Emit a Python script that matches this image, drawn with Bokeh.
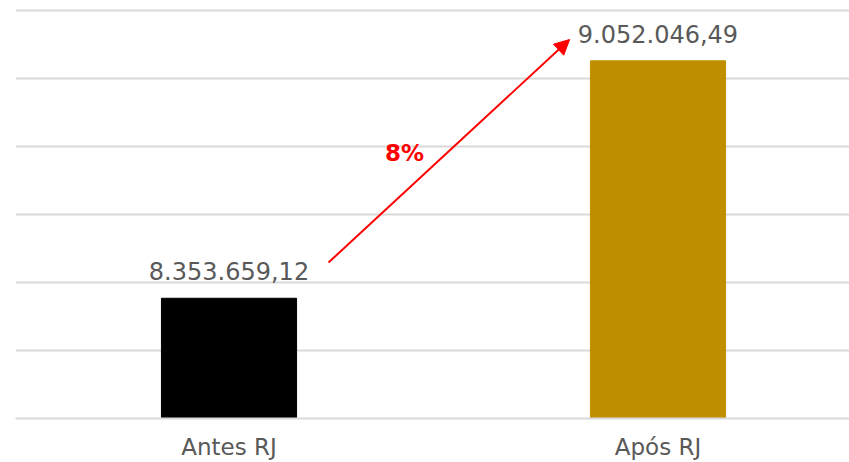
from bokeh.plotting import figure
from bokeh.models import (ColumnDataSource, Range1d, FixedTicker, LabelSet, Label,
                          Arrow, NormalHead)
from bokeh.core.properties import value
from bokeh.embed import file_html
from bokeh.resources import INLINE

categories = ["Antes RJ", "Após RJ"]
values = [8353659.12, 9052046.49]
bar_colors = ["#000000", "#bf8f00"]
grid_ticks = [8200000, 8400000, 8600000, 8800000, 9000000, 9200000]
y_min = 8000000
y_max = 9205900
growth_label = "8%"
arrow_start = (0.732, 8458800)
arrow_end = (1.294, 9114700)
growth_pos = (0.909, 8782300)


def fmt_br(v):
    s = f"{v:,.2f}"
    return s.replace(",", "X").replace(".", ",").replace("X", ".")


xs = [i + 0.5 for i in range(len(categories))]
src = ColumnDataSource(dict(
    x=xs, top=values, color=bar_colors,
    label=[fmt_br(v) for v in values],
))

FONT = "DejaVu Sans"
TXT = "#595959"

p = figure(frame_width=834, frame_height=410, output_backend="svg",
           toolbar_location=None, x_range=Range1d(0.0023, 1.9464),
           y_range=Range1d(y_min, y_max), min_border_left=15,
           min_border_right=0, min_border_top=8, min_border_bottom=0)
p.outline_line_color = None
p.background_fill_color = "white"
p.border_fill_color = "white"

p.vbar(x="x", top="top", bottom=y_min, width=0.315, color="color", source=src)

labels = LabelSet(x="x", y="top", text="label", source=src, text_align="center",
                  text_baseline="alphabetic", y_offset=18, text_font=value(FONT),
                  text_font_size=value("24px"), text_color=value(TXT))
p.add_layout(labels)

p.add_layout(Arrow(end=NormalHead(size=15, fill_color="red", line_color="red"),
                   x_start=arrow_start[0], y_start=arrow_start[1],
                   x_end=arrow_end[0], y_end=arrow_end[1],
                   line_color="red", line_width=2))
p.add_layout(Label(x=growth_pos[0], y=growth_pos[1], text=growth_label,
                   text_align="center", text_baseline="alphabetic",
                   text_font=FONT, text_font_style="bold",
                   text_font_size="23px", text_color="red"))

p.yaxis.visible = False
p.xgrid.visible = False
p.ygrid.ticker = FixedTicker(ticks=grid_ticks)
p.ygrid.grid_line_color = "#d9d9d9"
p.ygrid.grid_line_width = 2

p.xaxis.ticker = FixedTicker(ticks=xs)
p.xaxis.major_label_overrides = {x: c for x, c in zip(xs, categories)}
p.xaxis.minor_tick_line_color = None
p.xaxis.major_tick_line_color = None
p.xaxis.axis_line_color = "#d9d9d9"
p.xaxis.axis_line_width = 2
p.xaxis.major_label_standoff = 9
p.xaxis.major_label_text_font = FONT
p.xaxis.major_label_text_font_size = "23px"
p.xaxis.major_label_text_color = TXT

open("out.html", "w").write(file_html(p, INLINE))
